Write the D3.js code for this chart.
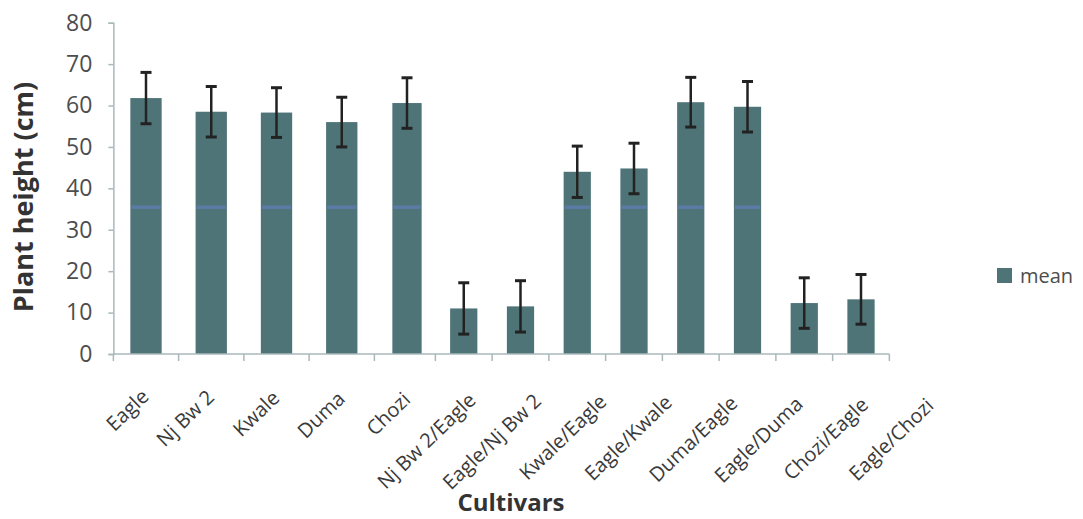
<!DOCTYPE html>
<html><head><meta charset="utf-8">
<script src="https://cdn.jsdelivr.net/npm/d3@7/dist/d3.min.js"></script>
<style>body{margin:0;background:#fff}svg{display:block}</style>
</head><body><svg id="c" width="1083" height="519"></svg>
<script>
const categories = ["Eagle","Nj Bw 2","Kwale","Duma","Chozi","Nj Bw 2/Eagle","Eagle/Nj Bw 2","Kwale/Eagle","Eagle/Kwale","Duma/Eagle","Eagle/Duma","Chozi/Eagle","Eagle/Chozi"];
const meanValues = [61.8,58.5,58.3,56.0,60.6,11.0,11.5,44.0,44.8,60.8,59.7,12.3,13.2];
const errorValues = [6.2,6.1,6.0,6.0,6.1,6.2,6.2,6.2,6.1,6.0,6.1,6.1,6.0];
const yTicks = [0,10,20,30,40,50,60,70,80];
const stripeValue = 35.5;
const seriesName = "mean";

const svg = d3.select("#c");
const yTop = 22.7, yBot = 354;
// bar centres follow the (scanned, unevenly stretched) picture: piecewise-linear index scale
const xc = d3.scaleLinear().domain([0, 4, 12]).range([146, 407, 861]);
const idx = new Map(categories.map((d,i) => [d,i]));
const stepAt = i => xc(i + 0.5) - xc(i - 0.5);
const bw = i => 0.48 * stepAt(i);
const xLeft = xc(-0.5), xRight = xc(categories.length - 0.5);
const y = d3.scaleLinear().domain([0, 80]).range([yBot, yTop]);
const labelX = d3.scalePoint().domain(categories).range([150, 935]);
const labelY = d3.scaleLinear().domain([0, categories.length - 1]).range([398, 407]);
const barColor = "#4e7478";
const axisColor = "#a9b9bb";
const textColor = "#4d4d4d";
const font = "Open Sans, sans-serif";

// y axis
const yAxis = svg.append("g").attr("transform", `translate(${xLeft},0)`)
  .call(d3.axisLeft(y).tickValues(yTicks).tickSize(5).tickPadding(16));
yAxis.select(".domain").attr("stroke", axisColor).attr("stroke-width", 1.5);
yAxis.selectAll(".tick line").attr("stroke", axisColor).attr("stroke-width", 1.5);
yAxis.selectAll("text").attr("fill", textColor).attr("font-family", font).attr("font-size", 23);

// bars
svg.append("g").selectAll("rect").data(categories).join("rect")
  .attr("x", d => xc(idx.get(d)) - bw(idx.get(d))/2).attr("width", d => bw(idx.get(d)))
  .attr("y", (d,i) => y(meanValues[i])).attr("height", (d,i) => y(0) - y(meanValues[i]))
  .attr("fill", barColor);

// faint blue stripe through tall bars
svg.append("g").selectAll("rect").data(categories.filter((d,i) => meanValues[i] > stripeValue)).join("rect")
  .attr("x", d => xc(idx.get(d)) - bw(idx.get(d))/2 + 1).attr("width", d => bw(idx.get(d)) - 2)
  .attr("y", y(stripeValue) - 1.5).attr("height", 3.5)
  .attr("fill", "#5c7db0").attr("opacity", 0.8);

// x axis
svg.append("line").attr("x1", xLeft).attr("x2", xRight).attr("y1", yBot).attr("y2", yBot)
  .attr("stroke", axisColor).attr("stroke-width", 1.5);
const bounds = d3.range(categories.length + 1).map(i => xc(i - 0.5));
svg.append("g").selectAll("line").data(bounds).join("line")
  .attr("x1", d => d).attr("x2", d => d).attr("y1", yBot).attr("y2", yBot + 7)
  .attr("stroke", axisColor).attr("stroke-width", 1.5);

// error bars
const eb = svg.append("g").attr("stroke", "#222");
categories.forEach((d,i) => {
  const cx = xc(i);
  const hi = y(meanValues[i] + errorValues[i]), lo = y(meanValues[i] - errorValues[i]);
  eb.append("line").attr("x1", cx).attr("x2", cx).attr("y1", hi).attr("y2", lo).attr("stroke-width", 2.5);
  eb.append("line").attr("x1", cx-5.5).attr("x2", cx+5.5).attr("y1", hi).attr("y2", hi).attr("stroke-width", 3);
  eb.append("line").attr("x1", cx-5.5).attr("x2", cx+5.5).attr("y1", lo).attr("y2", lo).attr("stroke-width", 3);
});

// x labels
svg.append("g").selectAll("text").data(categories).join("text")
  .attr("transform", (d,i) => `translate(${labelX(d)},${labelY(i)}) rotate(-44)`)
  .attr("text-anchor", "end")
  .attr("fill", "#3a3a3a").attr("font-family", font).attr("font-size", 20)
  .text(d => d);

// axis titles
svg.append("text").attr("transform", "translate(33,197) rotate(-90)")
  .attr("text-anchor", "middle").attr("fill", "#333")
  .attr("font-family", font).attr("font-weight", "bold").attr("font-size", 27)
  .text("Plant height (cm)");
svg.append("text").attr("x", 511).attr("y", 511)
  .attr("text-anchor", "middle").attr("fill", "#333")
  .attr("font-family", font).attr("font-weight", "bold").attr("font-size", 24)
  .text("Cultivars");

// legend
const lg = svg.append("g").attr("transform", "translate(997,268)");
lg.append("rect").attr("width", 15).attr("height", 15).attr("fill", barColor);
lg.append("text").attr("x", 23).attr("y", 15).attr("fill", textColor)
  .attr("font-family", font).attr("font-size", 20).text(seriesName);
</script></body></html>
